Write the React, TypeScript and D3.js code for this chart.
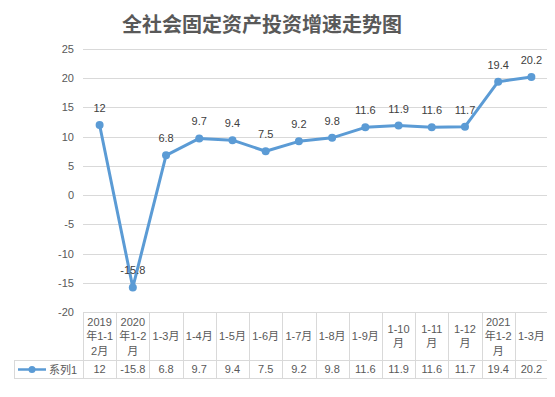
import { useEffect, useRef } from 'react';
import * as d3 from 'd3';

const title = '全社会固定资产投资增速走势图';
const seriesName = '系列1';
const categories = [
    '2019\n年1-1\n2月',
    '2020\n年1-2\n月',
    '1-3月',
    '1-4月',
    '1-5月',
    '1-6月',
    '1-7月',
    '1-8月',
    '1-9月',
    '1-10\n月',
    '1-11\n月',
    '1-12\n月',
    '2021\n年1-2\n月',
    '1-3月',
];
const values = [12, -15.8, 6.8, 9.7, 9.4, 7.5, 9.2, 9.8, 11.6, 11.9, 11.6, 11.7, 19.4, 20.2];
const yTicks = [-20, -15, -10, -5, 0, 5, 10, 15, 20, 25];

const W = 555;
const H = 397;
const plot = { left: 83, right: 548, top: 49, bottom: 312 };
const catRowBottom = 360;
const valRowBottom = 378;
const tableLeft = 14;
const font = '"Liberation Sans", "Noto Sans CJK SC", sans-serif';
const grid = '#d9d9d9';
const textColor = '#595959';
const lineColor = '#5b9bd5';

const App = () => {
    const svgRef = useRef<SVGSVGElement>(null);

    useEffect(() => {
        d3.select(svgRef.current).selectAll('*').remove();
        const svg = d3.select(svgRef.current);

        const idx = categories.map((_, i) => String(i));
        const x = d3.scaleBand().domain(idx).range([plot.left, plot.right]).padding(0);
        const y = d3.scaleLinear().domain([-20, 25]).range([plot.bottom, plot.top]);
        const cx = (i: number) => (x(String(i)) ?? 0) + x.bandwidth() / 2;

        // outer border
        svg.append('rect')
            .attr('x', 0.5)
            .attr('y', 0.5)
            .attr('width', W - 2)
            .attr('height', H - 1.5)
            .attr('fill', '#fff')
            .attr('stroke', grid);

        // title
        svg.append('text')
            .attr('x', 262)
            .attr('y', 32)
            .attr('text-anchor', 'middle')
            .attr('font-family', '"Noto Sans CJK SC", sans-serif')
            .attr('font-size', 20)
            .attr('font-weight', 'bold')
            .attr('fill', textColor)
            .text(title);

        // gridlines + y labels
        svg.append('g')
            .selectAll('line')
            .data(yTicks)
            .join('line')
            .attr('x1', plot.left)
            .attr('x2', plot.right)
            .attr('y1', d => Math.round(y(d)) + 0.5)
            .attr('y2', d => Math.round(y(d)) + 0.5)
            .attr('stroke', grid);

        svg.append('g')
            .selectAll('text')
            .data(yTicks)
            .join('text')
            .attr('x', 74)
            .attr('y', d => y(d) + 4)
            .attr('text-anchor', 'end')
            .attr('font-family', font)
            .attr('font-size', 11)
            .attr('fill', textColor)
            .text(d => d);

        // data table
        const table = svg.append('g').attr('stroke', grid).attr('fill', 'none');
        const vLines = [tableLeft, ...categories.map((_, i) => x(String(i)) ?? 0), plot.right];
        vLines.forEach((vx, k) => {
            table.append('line')
                .attr('x1', Math.round(vx) + 0.5)
                .attr('x2', Math.round(vx) + 0.5)
                .attr('y1', k === 0 ? catRowBottom : plot.bottom)
                .attr('y2', valRowBottom);
        });
        [catRowBottom, valRowBottom].forEach(hy => {
            table.append('line')
                .attr('x1', tableLeft)
                .attr('x2', plot.right)
                .attr('y1', hy + 0.5)
                .attr('y2', hy + 0.5);
        });

        const catG = svg.append('g')
            .attr('font-family', font)
            .attr('font-size', 11)
            .attr('fill', textColor)
            .attr('text-anchor', 'middle');
        categories.forEach((c, i) => {
            const lines = c.split('\n');
            const lh = 14.5;
            const mid = (plot.bottom + catRowBottom) / 2;
            lines.forEach((ln, j) => {
                catG.append('text')
                    .attr('x', cx(i))
                    .attr('y', mid + (j - (lines.length - 1) / 2) * lh + 4)
                    .text(ln);
            });
            catG.append('text')
                .attr('x', cx(i))
                .attr('y', (catRowBottom + valRowBottom) / 2 + 4)
                .text(values[i]);
        });

        // legend key
        const ly = (catRowBottom + valRowBottom) / 2 + 0.5;
        svg.append('line')
            .attr('x1', 18)
            .attr('x2', 46)
            .attr('y1', ly)
            .attr('y2', ly)
            .attr('stroke', lineColor)
            .attr('stroke-width', 2.5);
        svg.append('circle').attr('cx', 32).attr('cy', ly).attr('r', 3.5).attr('fill', lineColor);
        svg.append('text')
            .attr('x', 49)
            .attr('y', ly + 4)
            .attr('font-family', font)
            .attr('font-size', 11)
            .attr('fill', textColor)
            .text(seriesName);

        // series line
        const line = d3
            .line<number>()
            .x((_, i) => cx(i))
            .y(d => y(d));
        svg.append('path')
            .datum(values)
            .attr('d', line)
            .attr('fill', 'none')
            .attr('stroke', lineColor)
            .attr('stroke-width', 3)
            .attr('stroke-linejoin', 'round');

        svg.append('g')
            .selectAll('circle')
            .data(values)
            .join('circle')
            .attr('cx', (_, i) => cx(i))
            .attr('cy', d => y(d))
            .attr('r', 4)
            .attr('fill', lineColor);

        // data labels
        svg.append('g')
            .selectAll('text')
            .data(values)
            .join('text')
            .attr('x', (_, i) => cx(i))
            .attr('y', d => y(d) - 13)
            .attr('text-anchor', 'middle')
            .attr('font-family', font)
            .attr('font-size', 11)
            .attr('fill', '#404040')
            .text(d => d);
    }, []);

    return (
        <div style={{ width: W, height: H, margin: -8 }}>
            <svg ref={svgRef} width={W} height={H}></svg>
        </div>
    );
};

export default App;
